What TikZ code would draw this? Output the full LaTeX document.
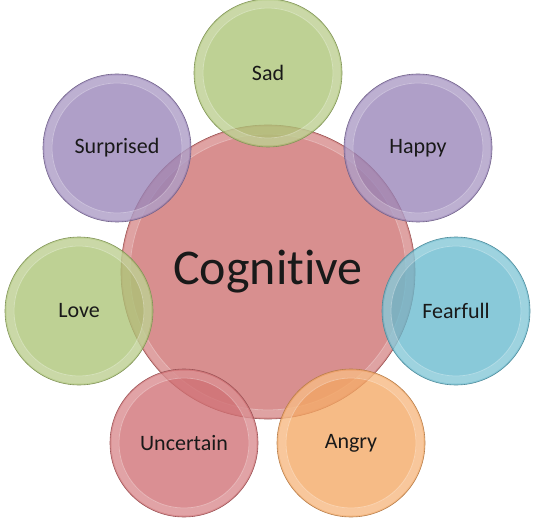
\documentclass[tikz,border=0pt]{standalone}
\usepackage{fontspec}
\setmainfont{Carlito}[Ligatures=NoCommon]

\definecolor{cogpink}{RGB}{205,112,112}
\definecolor{sadgreen}{RGB}{172,196,118}
\definecolor{moodlilac}{RGB}{152,132,184}
\definecolor{fearblue}{RGB}{104,186,206}
\definecolor{angryorange}{RGB}{244,168,100}
\definecolor{unsurered}{RGB}{208,112,116}

\tikzset{
  bubble/.style={circle, inner sep=0pt, draw=#1!75!black, line width=0.6pt,
    fill=#1, fill opacity=0.78, text opacity=1, text=black!90,
    path picture={
      % bevel: light rim and a thin inner edge
      \draw[draw opacity=0.18, white, line width=7pt]
        (path picture bounding box.center) circle (0.5*\pgfkeysvalueof{/pgf/minimum width}-5pt);
      \draw[draw opacity=0.35, white, line width=0.8pt]
        (path picture bounding box.center) circle (0.5*\pgfkeysvalueof{/pgf/minimum width}-9pt);
    }},
  mood/.style={bubble=#1, minimum size=148pt, font=\fontsize{22}{22}\selectfont},
  hub/.style={bubble=#1, minimum size=294pt, font=\fontsize{50}{50}\selectfont},
}

\begin{document}
\begin{tikzpicture}[x=1pt, y=-1pt]
\useasboundingbox (0,0) rectangle (534,526);
%%   centre first, the moods lie on top of it
\node[hub=cogpink] (cognitive) at (268,272) {Cognitive};

\node[mood=sadgreen]    (sad)       at (268,73)  {Sad};
\node[mood=moodlilac]   (happy)     at (418,148) {Happy};
\node[mood=fearblue]    (fearfull)  at (456,311) {Fearfull};
\node[mood=angryorange] (angry)     at (351,443) {Angry};
\node[mood=unsurered]   (uncertain) at (184,443) {Uncertain};
\node[mood=sadgreen]    (love)      at (79,311)  {Love};
\node[mood=moodlilac]   (surprised) at (117,148) {Surprised};
\end{tikzpicture}
\end{document}
